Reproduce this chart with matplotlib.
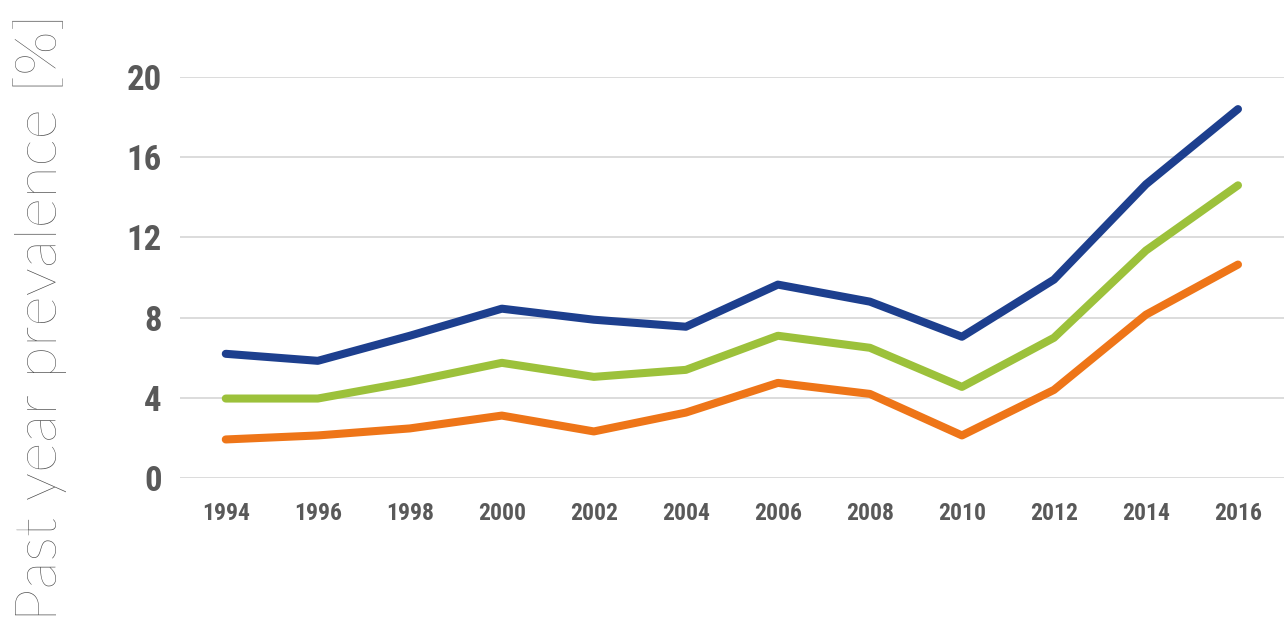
import numpy as np
import matplotlib
matplotlib.use('Agg')
from matplotlib import pyplot as plt
from matplotlib import font_manager

years = ['1994', '1996', '1998', '2000', '2002', '2004',
         '2006', '2008', '2010', '2012', '2014', '2016']
upper = [6.2, 5.85, 7.1, 8.45, 7.9, 7.55, 9.65, 8.8, 7.05, 9.9, 14.65, 18.4]
middle = [3.97, 3.97, 4.8, 5.75, 5.05, 5.4, 7.1, 6.5, 4.55, 7.0, 11.35, 14.6]
lower = [1.93, 2.13, 2.48, 3.12, 2.33, 3.27, 4.75, 4.2, 2.13, 4.4, 8.15, 10.65]
yticks = [0, 4, 8, 12, 16, 20]

grey = '#595959'

# pick a narrow font for the tick numbers if there is one
names = set(f.name for f in font_manager.fontManager.ttflist)
narrow = 'DejaVu Sans'
for n in ['Roboto Condensed', 'Liberation Sans Narrow', 'Open Sans Condensed']:
    if n in names:
        narrow = n
        break

fig = plt.figure(figsize=(12.84, 6.21), dpi=100)
ax = fig.add_axes([0.140, 0.230, 0.860, 0.646])

x = np.arange(len(years))
ax.plot(x, upper, color='#1d3f8e', lw=5.8, solid_capstyle='round', zorder=3)
ax.plot(x, middle, color='#9cc13b', lw=5.8, solid_capstyle='round', zorder=3)
ax.plot(x, lower, color='#ee7518', lw=5.8, solid_capstyle='round', zorder=3)

ax.set_xlim(-0.5, 11.5)
ax.set_ylim(0, 20)
ax.set_yticks(yticks)
ax.set_xticks(x)
ax.set_xticklabels(years)

for s in ax.spines.values():
    s.set_visible(False)
ax.grid(axis='y', color='#d9d9d9', lw=1.3, zorder=0)
ax.tick_params(length=0)
ax.tick_params(axis='y', pad=13, labelsize=25, labelcolor=grey)
ax.tick_params(axis='x', pad=17, labelsize=17, labelcolor=grey)
for lab in ax.get_yticklabels() + ax.get_xticklabels():
    lab.set_fontweight('bold')
    lab.set_family([narrow, 'DejaVu Sans'])
    if narrow == 'DejaVu Sans':
        lab.set_fontstretch('condensed')

fig.text(0.031, 0.0, 'Past year prevalence [%]', rotation=90, ha='center', va='bottom',
         fontsize=42, color='#4a4a4a', family=['Lato', 'DejaVu Sans'], fontweight='light')

plt.savefig('out.png', dpi=100)
